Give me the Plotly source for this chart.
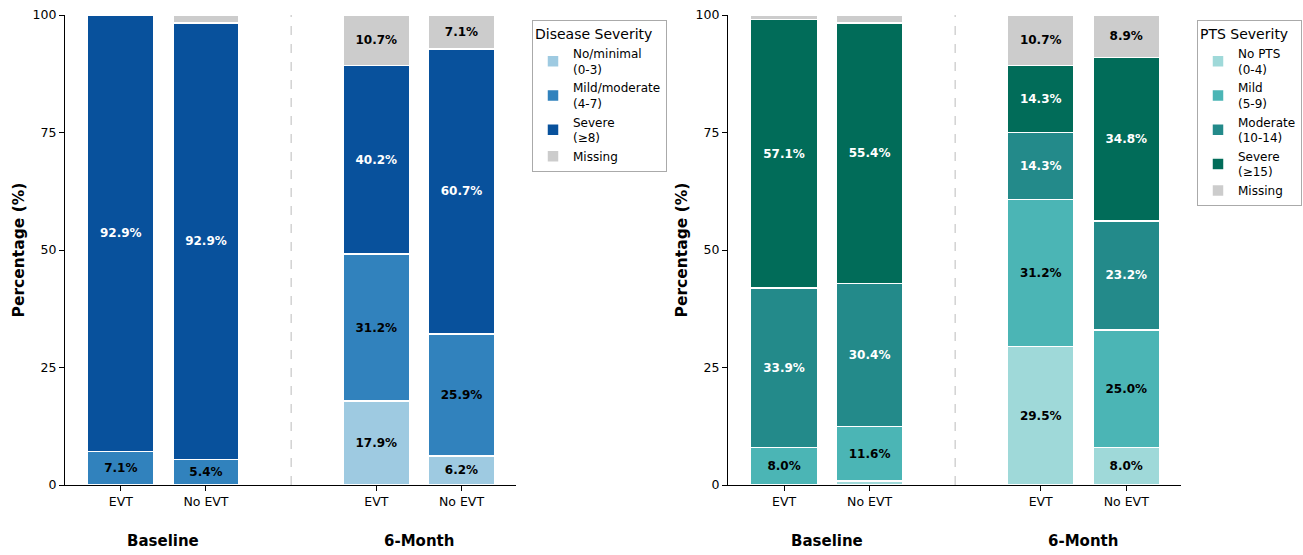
import plotly.graph_objects as go

# ---------------- data ----------------
x_pos = [0, 1, 3, 4]
x_labels = ["EVT", "No EVT", "EVT", "No EVT"]
group_labels = ["Baseline", "6-Month"]
group_pos = [0.5, 3.5]

# Disease severity (left)
ds_names = ["No/minimal<br>(0-3)", "Mild/moderate<br>(4-7)", "Severe<br>(≥8)", "Missing"]
ds_nomin = [0.0, 0.0, 17.9, 6.2]
ds_mild = [7.1, 5.4, 31.2, 25.9]
ds_severe = [92.9, 92.9, 40.2, 60.7]
ds_missing = [0.0, 1.7, 10.7, 7.1]
ds_colors = ["#9ecae1", "#3182bd", "#08519c", "#cccccc"]
ds_textcol = ["black", "black", "white", "black"]

# PTS severity (right)
pts_names = ["No PTS<br>(0-4)", "Mild<br>(5-9)", "Moderate<br>(10-14)", "Severe<br>(≥15)", "Missing"]
pts_none = [0.0, 0.9, 29.5, 8.0]
pts_mild = [8.0, 11.6, 31.2, 25.0]
pts_mod = [33.9, 30.4, 14.3, 23.2]
pts_severe = [57.1, 55.4, 14.3, 34.8]
pts_missing = [1.0, 1.7, 10.7, 8.9]
pts_colors = ["#9fd9d9", "#4bb5b5", "#238a8a", "#016c59", "#cccccc"]
pts_textcol = ["black", "black", "white", "white", "black"]

W, H = 1303, 555
FONT = "DejaVu Sans"

def fx(px):
    return px / W

def fy(py):
    return 1 - py / H

fig = go.Figure()

def add_stack(series, names, colors, tcols, xa, ya, legend):
    for vals, name, col, tc in zip(series, names, colors, tcols):
        txt = [f"<b>{v:.1f}%</b>" if v >= 5 else "" for v in vals]
        fig.add_trace(go.Bar(
            x=x_pos, y=vals, name=name, xaxis=xa, yaxis=ya, legend=legend,
            marker=dict(color=col, line=dict(color="white", width=1.5)),
            width=0.78, text=txt, textposition="inside", insidetextanchor="middle",
            textangle=0, constraintext="none",
            textfont=dict(color=tc, size=12, family=FONT),
            hoverinfo="skip",
        ))

add_stack([ds_nomin, ds_mild, ds_severe, ds_missing], ds_names, ds_colors, ds_textcol, "x", "y", "legend")
add_stack([pts_none, pts_mild, pts_mod, pts_severe, pts_missing], pts_names, pts_colors, pts_textcol, "x2", "y2", "legend2")

axis_common = dict(showline=True, linecolor="black", linewidth=1.2, ticks="outside",
                   ticklen=5, tickcolor="black", tickfont=dict(size=12.5, family=FONT, color="black"),
                   showgrid=False, zeroline=False, automargin=False)

xr = [-0.655, 4.64]
ytitle = dict(text="<b>Percentage (%)</b>", font=dict(size=15.5, family=FONT), standoff=4)
fig.update_layout(
    width=W, height=H, barmode="stack", plot_bgcolor="white", paper_bgcolor="white",
    margin=dict(l=0, r=0, t=0, b=0, autoexpand=False), font=dict(family=FONT, color="black"),
    xaxis=dict(domain=[fx(65), fx(516)], range=xr, tickvals=x_pos, ticktext=x_labels, **axis_common),
    xaxis2=dict(domain=[fx(728), fx(1181)], range=xr, tickvals=x_pos, ticktext=x_labels, **axis_common),
    yaxis=dict(domain=[fy(485), fy(15)], range=[0, 100], tickvals=[0, 25, 50, 75, 100], anchor="x",
               title=ytitle, **axis_common),
    yaxis2=dict(domain=[fy(485), fy(15)], range=[0, 100], tickvals=[0, 25, 50, 75, 100], anchor="x2",
                title=ytitle, **axis_common),
    legend=dict(x=fx(532), y=fy(20), xanchor="left", yanchor="top", traceorder="normal",
                title=dict(text="Disease Severity", font=dict(size=14), side="top"),
                font=dict(size=12, family=FONT), bordercolor="#aaaaaa", borderwidth=1,
                bgcolor="white", itemwidth=30, tracegroupgap=0),
    legend2=dict(x=fx(1197), y=fy(20), xanchor="left", yanchor="top", traceorder="normal",
                 title=dict(text="PTS Severity", font=dict(size=14), side="top"),
                 font=dict(size=12, family=FONT), bordercolor="#aaaaaa", borderwidth=1,
                 bgcolor="white", itemwidth=30, tracegroupgap=0),
    showlegend=True,
)

# dashed separators and group labels
for xa, ya in [("x", "y"), ("x2", "y2")]:
    fig.add_shape(type="line", xref=xa, yref=ya, x0=2, x1=2, y0=0, y1=100,
                  line=dict(color="#bbbbbb", width=1, dash="dash"), layer="below")
    for gl, gp in zip(group_labels, group_pos):
        fig.add_annotation(x=gp, xref=xa, y=fy(541), yref="paper", text=f"<b>{gl}</b>",
                           showarrow=False, font=dict(size=15, family=FONT, color="black"),
                           yanchor="middle")

fig.write_html("out.html")
